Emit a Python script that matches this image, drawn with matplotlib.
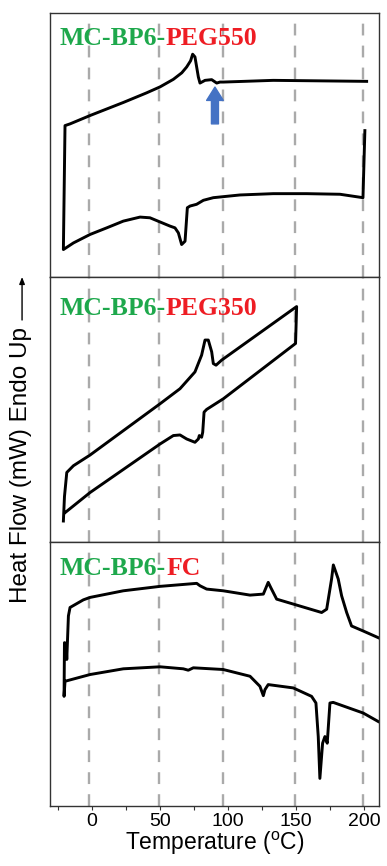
#!/usr/bin/env python3

import matplotlib as mpl
mpl.use('Agg')
import matplotlib.pyplot as plt

#======================================================================
# DSC traces (x in degC, y in arbitrary heat flow units)

# MC-BP6-PEG550: cooling run (right->left), jump up, heating run (left->right)
peg550_t = [200.7, 199.3, 182.4, 157.8, 133.3, 108.8, 89.2, 81.9, 76.9, 72.1,
            70.1, 68.4, 65.9, 63.5, 61.0, 57.4, 42.6, 35.3, 23.0, 10.8, -1.5,
            -13.7, -21.1, -19.9, -16.2, -1.5, 23.0, 40.0, 50.0, 59.8, 66.0,
            69.6, 72.5, 74.0, 75.7, 78.2, 79.4, 83.1, 88.0, 91.7, 94.1, 96.6,
            133.3, 202.0]
peg550_hf = [146.0, 79.3, 82.7, 83.3, 83.3, 82.0, 79.3, 76.7, 72.7, 71.0,
             69.3, 36.0, 32.7, 44.3, 49.3, 51.0, 59.3, 60.0, 56.0, 49.3, 42.7,
             34.3, 27.7, 151.0, 152.7, 161.0, 174.0, 183.5, 189.5, 197.0, 203.5,
             209.3, 215.5, 222.0, 219.3, 199.3, 193.3, 196.0, 196.7, 193.3, 194.3,
             194.3, 196.0, 195.0]

# MC-BP6-PEG350: cooling run, heating run
peg350_t = [-19.9, -1.5, 50.0, 59.8, 64.7, 69.6, 75.7, 78.2, 78.9, 80.6,
            81.4, 82.4, 84.3, 96.6, 149.7, 150.5, 95.3, 91.2, 89.2, 88.0,
            85.5, 83.1, 80.6, 75.7, 64.7, 50.0, -1.5, -13.7, -18.6, -20.3,
            -21.1]
peg350_hf = [29.0, 49.0, 97.3, 105.7, 106.3, 102.3, 99.0, 102.3, 105.7, 104.0,
             109.0, 129.0, 131.7, 142.3, 197.3, 234.0, 180.7, 175.7, 177.3, 189.0,
             200.7, 200.7, 185.7, 169.0, 152.3, 137.3, 86.3, 75.7, 69.0, 45.0,
             20.7]

# MC-BP6-FC: cooling run (right->left), heating run (left->right)
fc_t = [210.5, 199.5, 177.4, 175.0, 173.0, 171.3, 169.6, 167.6, 166.4, 164.7,
        161.5, 148.0, 129.6, 127.2, 126.0, 123.5, 116.2, 96.5, 74.5, 70.8,
        67.1, 50.0, 23.0, -1.5, -19.9, -20.6, -20.3, -19.1, -18.6, -17.4,
        -16.2, -6.4, -1.5, 23.0, 50.0, 77.0, 79.4, 84.3, 96.5, 116.2,
        126.0, 129.6, 131.4, 135.8, 168.9, 172.6, 176.2, 177.5, 181.1, 183.6,
        187.3, 190.9, 199.5, 210.5]
fc_hf = [84.3, 92.7, 103.3, 102.7, 62.7, 69.3, 62.7, 27.7, 69.3, 102.7,
         109.3, 117.7, 121.0, 116.0, 110.0, 119.3, 129.3, 136.0, 137.7, 135.3,
         136.7, 138.7, 136.7, 131.0, 124.3, 109.3, 162.7, 162.0, 146.0, 189.3,
         197.7, 205.3, 207.7, 214.3, 218.7, 221.7, 219.3, 216.0, 214.3, 210.0,
         211.0, 222.7, 217.7, 206.0, 192.7, 196.0, 226.0, 240.0, 226.0, 209.3,
         192.7, 179.3, 174.3, 167.7]

# panel names: (green part, red part)
names = [('MC-BP6-', 'PEG550'), ('MC-BP6-', 'PEG350'), ('MC-BP6-', 'FC')]
title_y = [0.878, 0.859, 0.876]

# guide lines and the arrow marking the small transition in PEG550
guide_t = [-2.2, 49.3, 96.3, 149.3, 199.3]
arrow_t = 90.4
arrow_hf = (152.7, 189.3)

xticks = [0, 50, 100, 150, 200]
xminor = [-25, 25, 75, 125, 175]

#======================================================================

GREEN = '#1ea84c'
RED = '#ee1d24'
TITLE_FONT = dict(fontsize=18.5, fontweight='bold', family='Liberation Serif')

plt.rcParams['font.family'] = ['Liberation Sans', 'DejaVu Sans']

fig, axes = plt.subplots(3, 1, figsize=(3.87, 8.66), dpi=100, sharex=True)
fig.subplots_adjust(left=0.129, right=0.979, top=0.985, bottom=0.069,
                    hspace=0)

traces = [(peg550_t, peg550_hf), (peg350_t, peg350_hf), (fc_t, fc_hf)]

green_texts = []
for ax, (ts, hf), (gname, rname), ty in zip(axes, traces, names, title_y):
    for x in guide_t:
        ax.axvline(x, color='#aaaaaa', lw=1.7, dashes=(5.0, 4.3), zorder=0)
    ax.plot(ts, hf, color='k', lw=2.1, solid_joinstyle='round')
    ax.set_ylim(0, 263)
    ax.set_yticks([])
    for sp in ax.spines.values():
        sp.set_color('#333333')
        sp.set_linewidth(1.0)
    t1 = ax.text(0.03, ty, gname, transform=ax.transAxes, color=GREEN,
                 va='baseline', ha='left', **TITLE_FONT)
    green_texts.append(t1)
    ax.tick_params(axis='x', which='both', bottom=False, top=False)

axes[0].annotate('', xy=(arrow_t, arrow_hf[1]), xytext=(arrow_t, arrow_hf[0]),
                 arrowprops=dict(arrowstyle='simple,head_length=0.8,'
                                 'head_width=1.0,tail_width=0.42',
                                 color='#4472c4', shrinkA=0, shrinkB=0,
                                 mutation_scale=12))

ax = axes[-1]
ax.set_xlim(-31, 211)
ax.set_xticks(xticks)
ax.set_xticks(xminor, minor=True)
ax.tick_params(axis='x', which='both', bottom=True, direction='out',
               length=3, width=0.8, color='#333333', labelsize=14, pad=2)
ax.set_xlabel('Temperature ($^{\\mathregular{o}}$C)', fontsize=16.5,
              labelpad=0)

fig.text(0.055, 1 - 465/866, 'Heat Flow (mW) Endo Up', rotation=90,
         fontsize=17.5, ha='center', va='center')
fig.add_artist(mpl.patches.FancyArrowPatch(
    (0.057, 1 - 320/866), (0.057, 1 - 277/866), transform=fig.transFigure,
    arrowstyle='-|>,head_length=4,head_width=1.6', color='k', lw=1.0,
    shrinkA=0, shrinkB=0))

# red part of the panel names goes right after the green part
fig.canvas.draw()
renderer = fig.canvas.get_renderer()
for ax, t1, (gname, rname), ty in zip(axes, green_texts, names, title_y):
    bb = t1.get_window_extent(renderer)
    x1 = ax.transAxes.inverted().transform((bb.x1, bb.y0))[0]
    ax.text(x1, ty, rname, transform=ax.transAxes, color=RED,
            va='baseline', ha='left', **TITLE_FONT)

fig.savefig('out.png', dpi=100)
